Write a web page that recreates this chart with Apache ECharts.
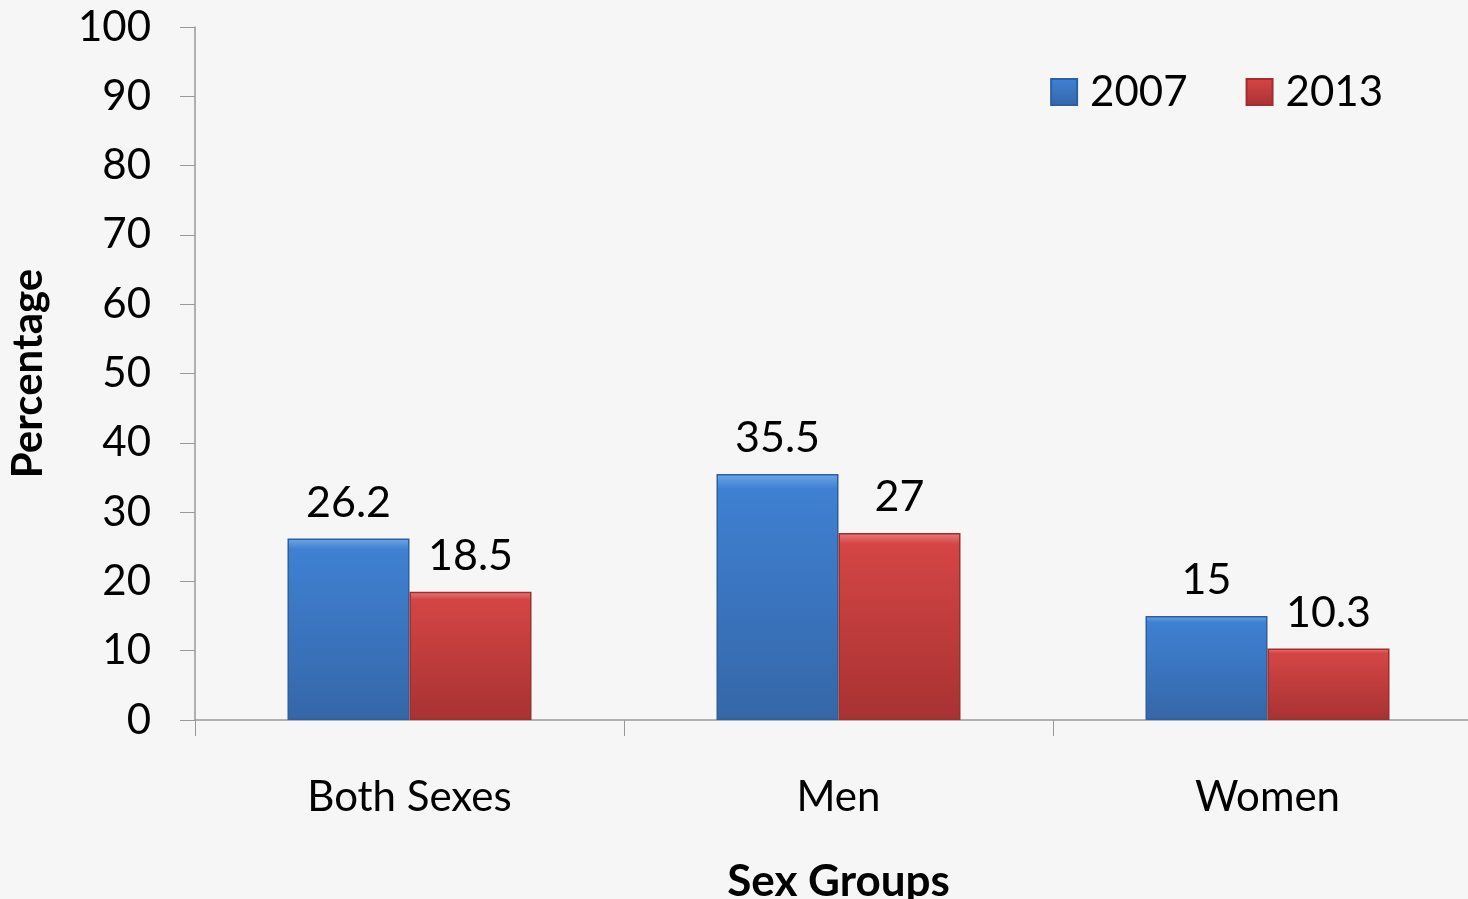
<!DOCTYPE html>
<html>
<head>
<meta charset="utf-8">
<script src="https://cdn.jsdelivr.net/npm/echarts@6/dist/echarts.min.js"></script>
<style>
  html, body { margin: 0; padding: 0; background: #f6f6f6; }
  #chart { width: 1468px; height: 899px; }
</style>
</head>
<body>
<div id="chart"></div>
<script>
var categories = ['Both Sexes', 'Men', 'Women'];
var values2007 = [26.2, 35.5, 15];
var values2013 = [18.5, 27, 10.3];
var yTicks = [0, 10, 20, 30, 40, 50, 60, 70, 80, 90, 100];

var font = 'Lato, "Open Sans", sans-serif';

function barColor(light, mid, dark) {
    return new echarts.graphic.LinearGradient(0, 0, 0, 1, [
        { offset: 0, color: light },
        { offset: 0.06, color: mid },
        { offset: 1, color: dark }
    ]);
}

var chart = echarts.init(document.getElementById('chart'));

var option = {
    backgroundColor: '#f6f6f6',
    textStyle: { fontFamily: font },
    grid: { left: 195, right: -14, top: 27, bottom: 179, containLabel: false, outerBoundsMode: 'none' },
    legend: {
        top: 66,
        right: 80,
        icon: 'rect',
        itemWidth: 26,
        itemHeight: 26,
        itemGap: 58,
        textStyle: { fontSize: 42, color: '#000', fontFamily: font, padding: [0, 0, 0, 8] },
        data: ['2007', '2013']
    },
    xAxis: {
        type: 'category',
        data: categories,
        name: 'Sex Groups',
        nameLocation: 'middle',
        nameGap: 140,
        nameTextStyle: { fontSize: 44, fontWeight: 'bold', color: '#000' },
        axisLine: { lineStyle: { color: '#999', width: 1.5 } },
        axisTick: { show: true, length: 16, lineStyle: { color: '#999' } },
        axisLabel: { fontSize: 42, color: '#000', margin: 56 }
    },
    yAxis: {
        type: 'value',
        min: yTicks[0],
        max: yTicks[yTicks.length - 1],
        interval: 10,
        name: 'Percentage',
        nameLocation: 'middle',
        nameGap: 146,
        nameTextStyle: { fontSize: 42, fontWeight: 'bold', color: '#000' },
        axisLine: { show: true, lineStyle: { color: '#999', width: 1.5 } },
        axisTick: { show: true, inside: false, length: 15, lineStyle: { color: '#999' } },
        splitLine: { show: false },
        axisLabel: { fontSize: 42, color: '#000', margin: 44 }
    },
    series: [
        {
            name: '2007',
            type: 'bar',
            data: values2007,
            barWidth: 122,
            barGap: '0%',
            itemStyle: {
                color: barColor('#6fa6e6', '#3f80d2', '#3567a8'),
                borderColor: '#2f5f9e',
                borderWidth: 1.5
            },
            label: { show: true, position: 'top', distance: 14, fontSize: 43, color: '#000' }
        },
        {
            name: '2013',
            type: 'bar',
            data: values2013,
            barWidth: 122,
            itemStyle: {
                color: barColor('#ec7a7a', '#d44545', '#a83232'),
                borderColor: '#9e2f2f',
                borderWidth: 1.5
            },
            label: { show: true, position: 'top', distance: 14, fontSize: 43, color: '#000' }
        }
    ]
};

chart.setOption(option);
</script>
</body>
</html>
